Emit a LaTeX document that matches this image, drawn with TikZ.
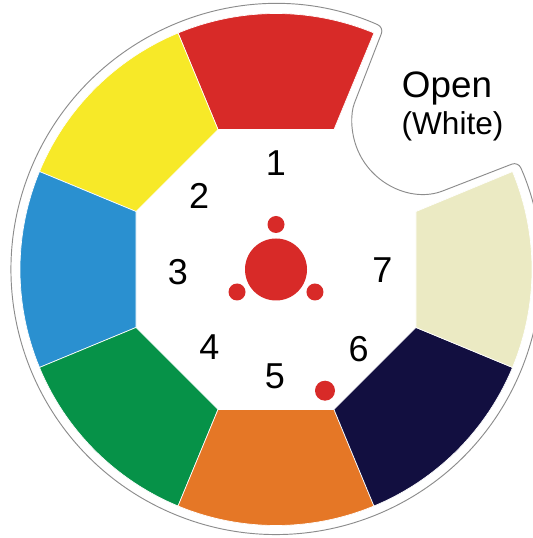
\documentclass[tikz,border=0pt]{standalone}
\usepackage{fontspec}
\setmainfont{Liberation Sans}
\usepackage{tikz}
\usetikzlibrary{calc}
\definecolor{WRed}{HTML}{D82A28}
\definecolor{WYellow}{HTML}{F7E928}
\definecolor{WBlue}{HTML}{2A90D0}
\definecolor{WGreen}{HTML}{069248}
\definecolor{WOrange}{HTML}{E57726}
\definecolor{WNavy}{HTML}{120F40}
\definecolor{WCream}{HTML}{EBEAC3}
\colorlet{RimLine}{black!45}

\begin{document}
\begin{tikzpicture}[
  x=0.75pt, y=0.75pt,
  rim/.style={draw=RimLine, fill=white, line width=0.7pt, rounded corners=5pt},
  seg/.style={draw=white, line width=0.5pt},
  dot/.style={fill=WRed},
  num/.style={inner sep=0pt, font=\fontsize{27}{27}\selectfont},
]
\useasboundingbox (-276,-268.5) rectangle (256,269.5);
%% rim of the wheel, with the cut-out of the open slot
\coordinate (bite) at (45:208);
\draw[rim] (66:265) arc[start angle=66, end angle=384, radius=265]
  -- ($(bite)+(291.2:71)$) arc[start angle=291.2, end angle=158.8, radius=71]
  -- cycle;
%% filter segments
\path[seg, fill=WRed]    (67.5:151.5)  -- (67.5:256)  arc[start angle=67.5,  end angle=112.5, radius=256] -- (112.5:151.5) -- cycle;
\path[seg, fill=WYellow] (112.5:151.5) -- (112.5:256) arc[start angle=112.5, end angle=157.5, radius=256] -- (157.5:151.5) -- cycle;
\path[seg, fill=WBlue]   (157.5:151.5) -- (157.5:256) arc[start angle=157.5, end angle=202.5, radius=256] -- (202.5:151.5) -- cycle;
\path[seg, fill=WGreen]  (202.5:151.5) -- (202.5:256) arc[start angle=202.5, end angle=247.5, radius=256] -- (247.5:151.5) -- cycle;
\path[seg, fill=WOrange] (247.5:151.5) -- (247.5:256) arc[start angle=247.5, end angle=292.5, radius=256] -- (292.5:151.5) -- cycle;
\path[seg, fill=WNavy]   (292.5:151.5) -- (292.5:256) arc[start angle=292.5, end angle=337.5, radius=256] -- (337.5:151.5) -- cycle;
\path[seg, fill=WCream]  (-22.5:151.5) -- (-22.5:256) arc[start angle=-22.5, end angle=22.5,  radius=256] -- (22.5:151.5)  -- cycle;
%% hub and marker holes
\fill[dot] (0,0) circle[radius=31];
\fill[dot] (90:45)  circle[radius=8.5];
\fill[dot] (210:45) circle[radius=8.5];
\fill[dot] (330:45) circle[radius=8.5];
\fill[dot] (49,-121.2) circle[radius=10];
%% slot numbers
\node[num] (n1) at (0,106)     {1};
\node[num] (n2) at (-76.8,73.2) {2};
\node[num] (n3) at (-98.2,-2.3) {3};
\node[num] (n4) at (-66.6,-77.8) {4};
\node[num] (n5) at (-1.1,-107)  {5};
\node[num] (n6) at (82.7,-79.5) {6};
\node[num] (n7) at (106.4,-0.5) {7};
\node[inner sep=0pt, anchor=base, font=\fontsize{27.6}{28}\selectfont] (open)  at (171,171.6) {Open};
\node[inner sep=0pt, anchor=base, font=\fontsize{23.7}{24}\selectfont] (white) at (176.5,135) {(White)};
\end{tikzpicture}
\end{document}
